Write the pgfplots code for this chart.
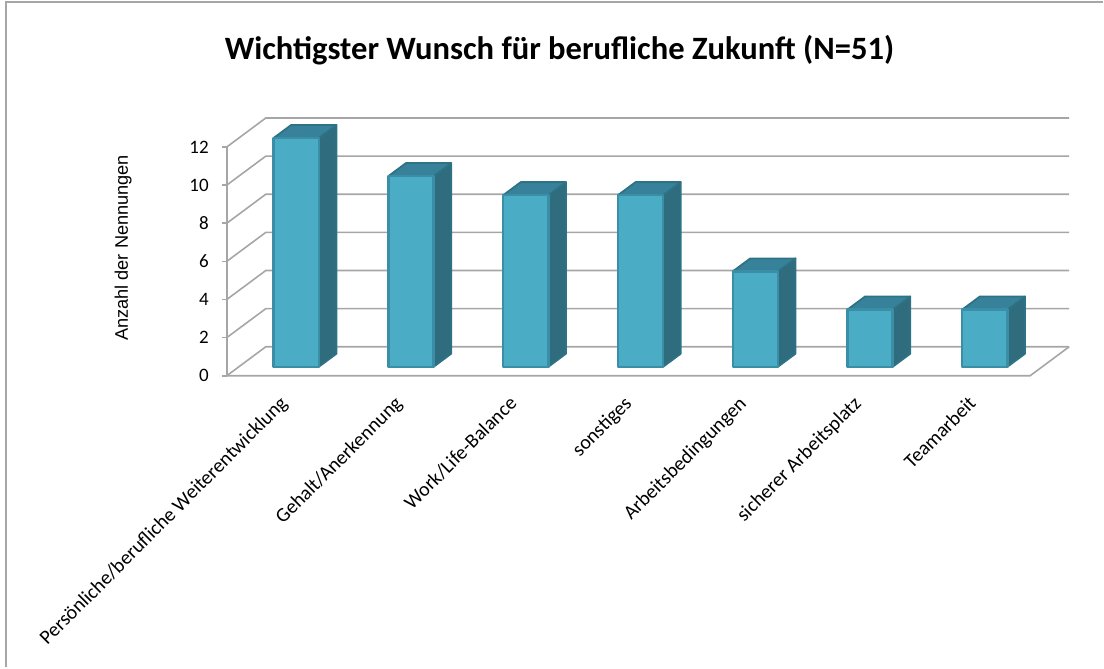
\documentclass[border=0pt]{standalone}
\usepackage{fontspec}
\setmainfont{Carlito}
\newfontfamily\arialfont{Liberation Sans}
\usepackage{pgfplots}
\usepackage{pgfplotstable}
\pgfplotsset{compat=1.18}

\definecolor{barfront}{HTML}{4BACC6}
\definecolor{bartop}{HTML}{37829A}
\definecolor{barside}{HTML}{2F6C7E}
\definecolor{baredge}{HTML}{3A8FA6}
\definecolor{gridc}{HTML}{A6A6A6}

% Anzahl der Nennungen je Wunsch
\pgfplotstableread{
idx v
0 12
1 10
2 9
3 9
4 5
5 3
6 3
}\wunsch

% 3D-Projektion (Achseneinheiten)
\def\DX{0.34}
\def\DY{1.52}
\def\tA{0.31}
\def\tB{0.76}
\def\bw{0.197}

\begin{document}
\begin{tikzpicture}
\begin{axis}[
  x=57.43pt, y=9.54pt,
  xmin=0, xmax=7.34, ymin=0, ymax=13.52,
  clip=false,
  axis line style={draw=none},
  font=\fontsize{9.5pt}{11pt}\selectfont,
  /pgf/number format/assume math mode=true,
  tick align=outside,
  xtick pos=bottom, ytick pos=left,
  ytick={0,2,...,12},
  xtick={0.5,1.5,...,6.5},
  minor xtick={0,...,7},
  major tick length=2.5pt,
  minor tick length=2.5pt,
  every x tick/.style={draw=none},
  every minor x tick/.style={gridc, line width=0.8pt},
  every y tick/.style={gridc, line width=0.8pt},
  xticklabels={Persönliche/berufliche Weiterentwicklung, Gehalt/Anerkennung, Work/Life-Balance, sonstiges, Arbeitsbedingungen, sicherer Arbeitsplatz, Teamarbeit},
  xticklabel style={rotate=45, anchor=north east, xshift=-3.5pt, yshift=0.5pt, font=\fontsize{10pt}{12pt}\selectfont},
  yticklabel style={xshift=-3pt},
  title={Wichtigster Wunsch für berufliche Zukunft (N=51)},
  title style={at={(axis description cs:0.395,1.264)}, anchor=center, yshift=-6pt, font=\fontsize{16.3pt}{18pt}\selectfont\bfseries},
  ylabel={Anzahl der Nennungen},
  every axis y label/.style={at={(axis description cs:-0.123,0.496)}, rotate=90, anchor=center, font=\arialfont\fontsize{9.1pt}{10pt}\selectfont},
]
% Rahmen und Bildgröße
\path (axis cs:-1.976,19.71) rectangle (axis cs:7.635,-15.30);
\draw[gray!70, line width=1pt] (axis cs:-1.924,-15.30) -- (axis cs:-1.924,19.60) -- (axis cs:7.635,19.60);
% Wände und Boden
\draw[gridc, line width=0.8pt] (axis cs:0,0) -- (axis cs:0,12);
\draw[gridc, line width=0.8pt] (axis cs:0,0) -- (axis cs:7,0) -- (axis cs:7.34,1.52);
\pgfplotsinvokeforeach{0,2,4,6,8,10,12}{
  \draw[gridc, line width=0.8pt] (axis cs:0,#1) -- (axis cs:0.34,#1+1.52) -- (axis cs:7.34,#1+1.52);
}
% Säulen
\pgfplotsinvokeforeach{0,...,6}{
  \pgfplotstablegetelem{#1}{v}\of\wunsch
  \pgfmathsetmacro\xL{#1+0.5-\bw+\tA*\DX}
  \pgfmathsetmacro\xR{#1+0.5+\bw+\tA*\DX}
  \pgfmathsetmacro\yB{\tA*\DY}
  \pgfmathsetmacro\yT{\pgfplotsretval+\tA*\DY}
  \pgfmathsetmacro\ox{(\tB-\tA)*\DX}
  \pgfmathsetmacro\oy{(\tB-\tA)*\DY}
  \pgfmathsetmacro\xLo{\xL+\ox}
  \pgfmathsetmacro\xRo{\xR+\ox}
  \pgfmathsetmacro\yBo{\yB+\oy}
  \pgfmathsetmacro\yTo{\yT+\oy}
  \addplot[fill=barside, draw=baredge!80!black, line width=0.9pt, line join=round]
    coordinates {(\xR,\yB) (\xRo,\yBo) (\xRo,\yTo) (\xR,\yT)} -- cycle;
  \addplot[fill=bartop, draw=baredge!80!black, line width=0.9pt, line join=round]
    coordinates {(\xL,\yT) (\xR,\yT) (\xRo,\yTo) (\xLo,\yTo)} -- cycle;
  \addplot[fill=barfront, draw=baredge, line width=1.2pt, line join=round]
    coordinates {(\xL,\yB) (\xR,\yB) (\xR,\yT) (\xL,\yT)} -- cycle;
}
\end{axis}
\end{tikzpicture}
\end{document}
